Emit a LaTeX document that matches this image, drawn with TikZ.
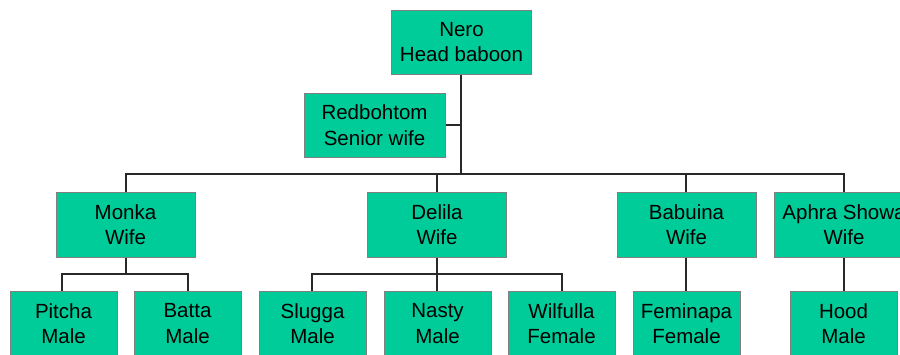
\documentclass[tikz,border=0pt]{standalone}
\usepackage{fontspec}
\setmainfont{Liberation Sans}
\definecolor{boxfill}{RGB}{0,204,153}
\definecolor{boxline}{RGB}{128,128,128}
\definecolor{conn}{RGB}{40,40,40}
\begin{document}
\begin{tikzpicture}[x=1pt,y=-1pt,
  box/.style={draw=boxline,line width=1pt,fill=boxfill,inner sep=0pt,align=center,
    font=\fontsize{20.5}{25.5}\selectfont,text=black},
  wifebox/.style={box,minimum width=139pt,minimum height=65pt},
  kidbox/.style={box,minimum width=107pt,minimum height=65pt},
  link/.style={draw=conn,line width=1.2pt}]
\useasboundingbox (0,0) rectangle (900,354);
\clip (0,0) rectangle (900,354);
\fill[white] (0,0) rectangle (900,354);
% junctions
\coordinate (j0) at (461,174);
\coordinate (jm) at (126,274);
\coordinate (jd) at (437,274);
% connectors
\draw[link] (461,74) -- (j0);
\draw[link] (445,125) -- (461,125);
\draw[link] (j0) -| (126,192);
\draw[link] (j0) -| (437,192);
\draw[link] (j0) -| (686,192);
\draw[link] (j0) -| (844,192);
\draw[link] (126,257) -- (jm);
\draw[link] (jm) -| (62,291);
\draw[link] (jm) -| (188,291);
\draw[link] (437,257) -- (jd);
\draw[link] (jd) -| (312,291);
\draw[link] (jd) -- (437,291);
\draw[link] (jd) -| (562,291);
\draw[link] (686,257) -- (686,291);
\draw[link] (844,257) -- (844,291);
% nodes
\node[wifebox,minimum width=140pt,minimum height=64pt] (nero) at (461.5,42) {Nero\\Head baboon};
\node[wifebox,minimum width=141pt,minimum height=64pt] (red) at (374.5,125) {Redbohtom\\Senior wife};
\node[wifebox] (monka) at (125.5,224.5) {Monka\\Wife};
\node[wifebox] (delila) at (437,224.5) {Delila\\Wife};
\node[wifebox] (babuina) at (686.5,224.5) {Babuina\\Wife};
\node[wifebox,minimum width=140pt] (aphra) at (844,224.5) {Aphra Showa\\Wife};
\node[kidbox] (pitcha) at (63.5,323.5) {Pitcha\\Male};
\node[kidbox] (batta) at (187.5,323.5) {Batta\\Male};
\node[kidbox] (slugga) at (312.5,323.5) {Slugga\\Male};
\node[kidbox] (nasty) at (437.5,323.5) {Nasty\\Male};
\node[kidbox] (wilfulla) at (561.5,323.5) {Wilfulla\\Female};
\node[kidbox] (feminapa) at (686.5,323.5) {Feminapa\\Female};
\node[kidbox] (hood) at (843.5,323.5) {Hood\\Male};
\end{tikzpicture}
\end{document}
